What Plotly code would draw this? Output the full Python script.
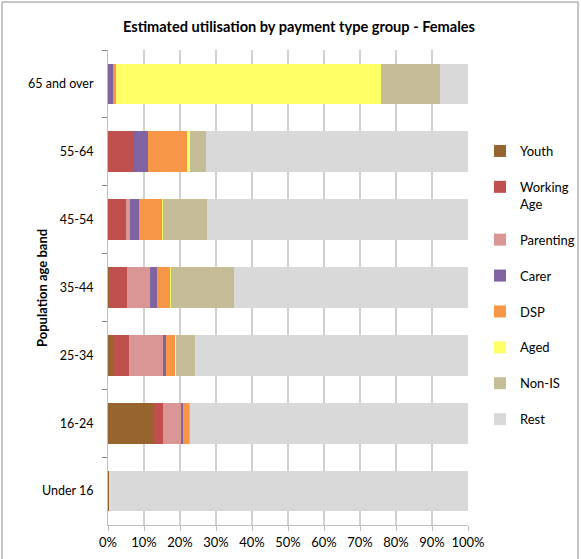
import plotly.graph_objects as go

categories = ["65 and over", "55-64", "45-54", "35-44", "25-34", "16-24", "Under 16"]
series_names = ["Youth", "Working Age", "Parenting", "Carer", "DSP", "Aged", "Non-IS", "Rest"]
legend_labels = ["Youth", "Working<br>Age", "Parenting", "Carer", "DSP", "Aged", "Non-IS", "Rest"]

youth =       [0.0, 0.0, 0.0, 0.4, 1.3, 12.9, 0.4]
working_age = [0.1, 7.1, 5.1, 5.0, 4.6, 2.4, 0.0]
parenting =   [0.0, 0.0, 1.1, 6.4, 9.5, 5.0, 0.0]
carer =       [1.4, 3.9, 2.5, 1.8, 0.8, 0.5, 0.0]
dsp =         [0.8, 11.0, 6.3, 3.8, 2.5, 1.8, 0.0]
aged =        [73.5, 0.9, 0.4, 0.1, 0.1, 0.1, 0.0]
non_is =      [16.4, 4.3, 12.2, 17.4, 5.5, 0.1, 0.0]
rest =        [7.8, 72.8, 72.4, 65.1, 75.7, 77.2, 99.6]

colors = ["#97642F", "#C0504D", "#D99694", "#8064A2", "#F79646", "#FFFF66", "#C4BD97", "#D9D9D9"]
x_ticks = [0, 10, 20, 30, 40, 50, 60, 70, 80, 90, 100]
x_tick_labels = [f"{v}%" for v in x_ticks]

values = [youth, working_age, parenting, carer, dsp, aged, non_is, rest]

font_family = "Lato, 'Open Sans', sans-serif"

fig = go.Figure()
for name, label, vals, col in zip(series_names, legend_labels, values, colors):
    fig.add_trace(go.Bar(
        y=categories, x=vals, name=label, orientation="h",
        marker=dict(color=col, line=dict(width=0)),
        legendgroup=name,
        hovertemplate=name + ": %{x}%<extra></extra>",
    ))

fig.update_layout(
    width=581, height=559,
    margin=dict(l=108, r=113, t=50, b=34, autoexpand=False),
    barmode="stack", bargap=0.4,
    paper_bgcolor="white", plot_bgcolor="white",
    font=dict(family=font_family, size=12, color="#000000"),
    title=dict(text="<b>Estimated utilisation by payment type group - Females</b>",
               x=299/581, xanchor="center", y=1-27/559, yanchor="middle",
               font=dict(size=14.6, color="#000000")),
    legend=dict(x=(480-108)/360, y=(525-136)/475, xanchor="left", yanchor="top",
                traceorder="grouped", tracegroupgap=16, valign="top",
                font=dict(size=13, color="#000000"), itemwidth=30,
                bgcolor="rgba(0,0,0,0)"),
    xaxis=dict(range=[0, 100], tickvals=x_ticks, ticktext=x_tick_labels,
               showgrid=True, gridcolor="#D0D0D0", gridwidth=1.5,
               showline=True, linecolor="#BFBFBF", linewidth=1,
               ticks="outside", ticklen=5, tickcolor="#BFBFBF",
               zeroline=False, fixedrange=True, automargin=False,
               tickfont=dict(size=13, color="#000000")),
    yaxis=dict(autorange="reversed", showline=True, linecolor="#BFBFBF", linewidth=1,
               ticks="outside", ticklen=5, tickcolor="#808080", tickson="boundaries",
               showgrid=False, ticklabelstandoff=11, automargin=False, fixedrange=True,
               tickfont=dict(size=12.5, color="#000000")),
    shapes=[dict(type="rect", xref="paper", yref="paper",
                 x0=(2-108)/360, x1=(578-108)/360, y0=-0.2, y1=1+48/475,
                 line=dict(color="#8C8C8C", width=1), fillcolor="rgba(0,0,0,0)", layer="below")],
    annotations=[dict(text="<b>Population age band</b>", textangle=-90,
                      xref="paper", yref="paper", x=(42-108)/360, y=(525-288)/475,
                      xanchor="center", yanchor="middle", showarrow=False,
                      font=dict(size=13, color="#000000"))],
)

fig.write_html("out.html", config={"displayModeBar": False},
               post_script="document.body.style.margin='0';document.body.style.overflow='hidden';")
